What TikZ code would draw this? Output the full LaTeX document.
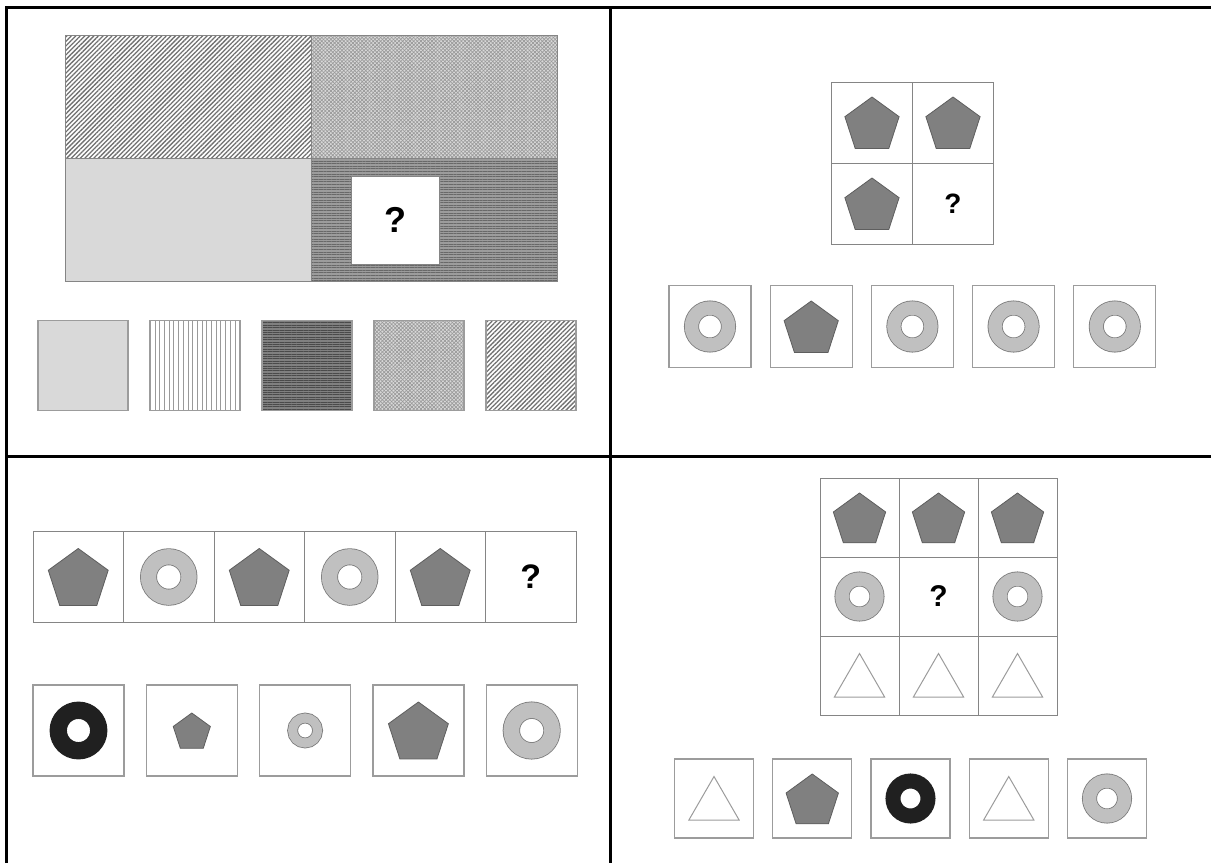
\documentclass[tikz,border=0pt]{standalone}
\usepackage{fontspec}
\setsansfont{Liberation Sans}
\usepackage{tikz}
\usetikzlibrary{positioning,shapes.geometric,patterns.meta}
\definecolor{pentfill}{HTML}{808080}
\definecolor{pentedge}{HTML}{5E5E5E}
\definecolor{ringfill}{HTML}{C0C0C0}
\definecolor{ringedge}{HTML}{7A7A7A}
\definecolor{ringdark}{HTML}{202020}
\definecolor{boxedge}{HTML}{9C9C9C}
\definecolor{gridedge}{HTML}{858585}
\definecolor{solidgray}{HTML}{D9D9D9}
\definecolor{hatchgray}{HTML}{707070}
\definecolor{dotgray}{HTML}{9A9A9A}
\definecolor{stripebase}{HTML}{9C9C9C}
\definecolor{stripegray}{HTML}{686868}
\definecolor{darkbase}{HTML}{808080}
\definecolor{darkstripe}{HTML}{4A4A4A}

\begin{document}
\begin{tikzpicture}[x=1pt, y=-1pt, every node/.style={inner sep=0pt, outer sep=0pt}]
\tikzstyle{frame}=[line width=3pt, black]
\tikzstyle{cell}=[draw=gridedge, line width=0.9pt, fill=white]
\tikzstyle{ans}=[draw=boxedge, line width=1.2pt, fill=white]
\tikzstyle{quad}=[draw=gridedge, line width=0.8pt, minimum width=246pt, minimum height=123pt]
\tikzstyle{pent}=[regular polygon, regular polygon sides=5, draw=pentedge, fill=pentfill, line width=0.8pt, yshift=-3pt]
\tikzstyle{ring}=[circle, draw=ringedge, double=ringfill, fill=white, line width=0.8pt]
\tikzstyle{darkring}=[circle, draw=ringdark, double=ringdark, fill=white, line width=0.8pt]
\tikzstyle{tri}=[regular polygon, regular polygon sides=3, draw=boxedge, fill=white, line width=1pt, minimum size=58pt, yshift=-7pt]
\tikzstyle{qmark}=[font=\sffamily\bfseries]
\tikzstyle{diag}=[preaction={fill=white}, pattern={Lines[angle=45, distance=3.2pt, line width=1.3pt]}, pattern color=hatchgray]
\tikzstyle{checks}=[preaction={fill=solidgray}, preaction={pattern={Lines[angle=45, distance=2.6pt, line width=0.7pt]}, pattern color=dotgray}, pattern={Lines[angle=-45, distance=2.6pt, line width=0.7pt]}, pattern color=dotgray]
\tikzstyle{stripes}=[preaction={fill=stripebase}, pattern={Lines[angle=0, distance=2.6pt, line width=0.9pt]}, pattern color=stripegray]
\tikzstyle{darkstripes}=[preaction={fill=darkbase}, pattern={Lines[angle=0, distance=2.4pt, line width=1pt]}, pattern color=darkstripe]
\tikzstyle{vlines}=[preaction={fill=white}, pattern={Lines[angle=90, distance=4.7pt, line width=1pt]}, pattern color=dotgray]
\useasboundingbox (0,0) rectangle (1211,863);
\draw[frame] (6,863) -- (6,7) -- (1211,7);
\draw[frame] (610,7) -- (610,863);
\draw[frame] (6,456) -- (1211,456);

\node[quad, diag] (nw) at (188,96.5) {};
\node[quad, checks, right=0pt of nw] (ne) {};
\node[quad, fill=solidgray, below=0pt of nw] (sw) {};
\node[quad, stripes, right=0pt of sw] (se) {};
\node[cell, qmark, minimum size=88pt] (qa) at (395,220) {\fontsize{36}{40}\selectfont ?};
\node[ans, fill=solidgray, minimum size=90pt] (t1) at (83,365.5) {};
\node[ans, vlines, minimum size=90pt, right=22pt of t1] (t2) {};
\node[ans, darkstripes, minimum size=90pt, right=22pt of t2] (t3) {};
\node[ans, checks, minimum size=90pt, right=22pt of t3] (t4) {};
\node[ans, diag, minimum size=90pt, right=22pt of t4] (t5) {};

\node[cell, minimum size=81pt] (g11) at (872,122.5) {};
\node[cell, minimum size=81pt, right=0pt of g11] (g12) {};
\node[cell, minimum size=81pt, below=0pt of g11] (g21) {};
\node[cell, qmark, minimum size=81pt, right=0pt of g21] (g22) {\fontsize{28}{32}\selectfont ?};
\node[pent, minimum size=57pt] (p11) at (g11) {};
\node[pent, minimum size=57pt] (p12) at (g12) {};
\node[pent, minimum size=57pt] (p21) at (g21) {};
\node[ans, minimum size=82pt] (r1) at (710,326.5) {};
\node[ans, minimum size=82pt, right=19.2pt of r1] (r2) {};
\node[ans, minimum size=82pt, right=19.2pt of r2] (r3) {};
\node[ans, minimum size=82pt, right=19.2pt of r3] (r4) {};
\node[ans, minimum size=82pt, right=19.2pt of r4] (r5) {};
\node[ring, minimum size=37pt, double distance=13.4pt] (rr1) at (r1) {};
\node[pent, minimum size=57pt] (rp2) at (r2) {};
\node[ring, minimum size=37pt, double distance=13.4pt] (rr3) at (r3) {};
\node[ring, minimum size=37pt, double distance=13.4pt] (rr4) at (r4) {};
\node[ring, minimum size=37pt, double distance=13.4pt] (rr5) at (r5) {};

\node[cell, minimum size=90.5pt] (s1) at (78.25,577) {};
\node[cell, minimum size=90.5pt, right=0pt of s1] (s2) {};
\node[cell, minimum size=90.5pt, right=0pt of s2] (s3) {};
\node[cell, minimum size=90.5pt, right=0pt of s3] (s4) {};
\node[cell, minimum size=90.5pt, right=0pt of s4] (s5) {};
\node[cell, qmark, minimum size=90.5pt, right=0pt of s5] (s6) {\fontsize{34}{38}\selectfont ?};
\node[pent, minimum size=63pt] (sp1) at (s1) {};
\node[ring, minimum size=40.5pt, double distance=15.3pt] (sr2) at (s2) {};
\node[pent, minimum size=63pt] (sp3) at (s3) {};
\node[ring, minimum size=40.5pt, double distance=15.3pt] (sr4) at (s4) {};
\node[pent, minimum size=63pt] (sp5) at (s5) {};
\node[ans, minimum size=91pt] (b1) at (78.5,730.5) {};
\node[ans, minimum size=91pt, right=22.3pt of b1] (b2) {};
\node[ans, minimum size=91pt, right=22.3pt of b2] (b3) {};
\node[ans, minimum size=91pt, right=22.3pt of b3] (b4) {};
\node[ans, minimum size=91pt, right=22.3pt of b4] (b5) {};
\node[darkring, minimum size=40.5pt, double distance=15.7pt] (br1) at (b1) {};
\node[pent, minimum size=39pt, yshift=1pt] (bp2) at (b2) {};
\node[ring, minimum size=25pt, double distance=9.1pt] (br3) at (b3) {};
\node[pent, minimum size=63pt] (bp4) at (b4) {};
\node[ring, minimum size=40.7pt, double distance=15.7pt] (br5) at (b5) {};

\node[cell, minimum size=79pt] (c11) at (859.5,517.5) {};
\node[cell, minimum size=79pt, right=0pt of c11] (c12) {};
\node[cell, minimum size=79pt, right=0pt of c12] (c13) {};
\node[cell, minimum size=79pt, below=0pt of c11] (c21) {};
\node[cell, qmark, minimum size=79pt, right=0pt of c21] (c22) {\fontsize{30}{34}\selectfont ?};
\node[cell, minimum size=79pt, right=0pt of c22] (c23) {};
\node[cell, minimum size=79pt, below=0pt of c21] (c31) {};
\node[cell, minimum size=79pt, right=0pt of c31] (c32) {};
\node[cell, minimum size=79pt, right=0pt of c32] (c33) {};
\node[pent, minimum size=55pt] (cp11) at (c11) {};
\node[pent, minimum size=55pt] (cp12) at (c12) {};
\node[pent, minimum size=55pt] (cp13) at (c13) {};
\node[ring, minimum size=35pt, double distance=13.4pt] (cr21) at (c21) {};
\node[ring, minimum size=35pt, double distance=13.4pt] (cr23) at (c23) {};
\node[tri] (ct31) at (c31) {};
\node[tri] (ct32) at (c32) {};
\node[tri] (ct33) at (c33) {};
\node[ans, minimum size=79pt] (a1) at (714,798.5) {};
\node[ans, minimum size=79pt, right=19.25pt of a1] (a2) {};
\node[ans, minimum size=79pt, right=19.25pt of a2] (a3) {};
\node[ans, minimum size=79pt, right=19.25pt of a3] (a4) {};
\node[ans, minimum size=79pt, right=19.25pt of a4] (a5) {};
\node[tri] (at1) at (a1) {};
\node[pent, minimum size=55pt] (ap2) at (a2) {};
\node[darkring, minimum size=35pt, double distance=13.4pt] (ar3) at (a3) {};
\node[tri] (at4) at (a4) {};
\node[ring, minimum size=35pt, double distance=13.4pt] (ar5) at (a5) {};
\end{tikzpicture}
\end{document}
